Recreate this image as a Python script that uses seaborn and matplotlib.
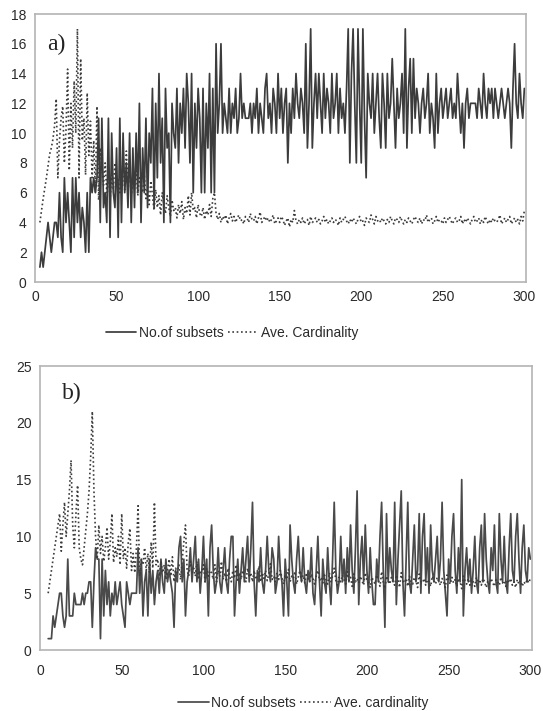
import numpy as np
import pandas as pd
import matplotlib
matplotlib.use("Agg")
import matplotlib.pyplot as plt
import seaborn as sns

# ---------------- data: panel a ----------------
a_start_x = 3
a_subsets = [
    1,2,1,2,3,4,3,2,3,4,
    4,3,6,3,2,7,4,6,4,2,
    7,3,7,4,6,3,5,4,2,6,
    2,7,6,7,6,7,11,4,11,5,
    6,4,11,3,10,6,5,9,3,11,
    4,10,6,8,5,10,4,9,5,10,
    6,12,4,9,6,11,5,10,8,13,
    5,12,7,14,8,11,4,13,9,10,
    4,12,10,9,13,8,12,10,13,9,
    14,12,8,14,6,12,9,13,11,6,
    13,6,12,9,14,6,13,6,16,10,
    12,16,10,12,11,10,13,10,12,11,
    13,10,11,14,11,12,11,11,11,12,
    10,12,11,13,10,12,11,10,13,14,
    11,12,10,13,12,10,14,11,13,10,
    12,13,8,12,10,13,11,14,12,11,
    13,12,10,16,9,12,17,9,12,14,
    11,14,12,10,14,11,13,12,10,14,
    11,12,14,10,13,11,12,10,13,17,
    8,14,17,12,8,17,12,8,17,11,
    7,14,12,11,14,10,12,14,11,9,
    14,12,9,14,11,12,15,12,9,13,
    11,12,14,10,17,9,13,15,10,15,
    11,13,12,10,12,13,11,12,14,10,
    12,11,9,14,10,12,13,11,12,13,
    11,12,13,11,12,11,14,12,10,12,
    9,12,13,11,12,12,12,12,11,13,
    12,11,14,12,11,13,12,13,11,13,
    12,11,12,13,12,11,12,13,12,9,
    13,16,12,11,14,12,11,13,
]
a_cardinality = [
    4.0,4.8,5.6,6.3,7.0,7.8,8.6,9.0,9.6,10.5,
    12.3,7.0,9.5,11.0,11.8,8.0,10.2,14.3,7.5,12.0,
    9.0,13.5,10.0,17.0,7.0,15.0,9.5,11.0,7.2,12.7,
    8.5,10.8,7.0,9.5,6.0,11.8,5.5,9.0,7.8,6.5,
    8.0,6.0,7.5,5.5,7.2,6.2,8.0,6.5,7.0,6.0,
    6.8,8.0,6.2,8.8,6.5,7.5,5.8,6.8,6.2,7.6,
    5.8,7.0,6.5,6.0,7.2,5.6,6.4,5.2,6.8,5.8,
    4.8,6.2,5.0,5.8,4.5,6.0,5.2,4.6,5.8,5.0,
    4.4,5.5,4.8,5.0,4.3,5.2,4.6,5.4,4.2,5.0,
    4.6,5.8,4.5,6.0,4.8,5.0,4.3,5.2,4.6,4.4,
    5.0,4.2,4.8,4.5,5.2,4.4,5.6,6.0,4.6,4.2,
    4.6,4.0,4.4,4.2,4.5,3.9,4.3,4.6,4.1,4.4,
    4.0,4.3,4.5,4.1,4.2,3.9,4.4,4.3,4.0,4.6,
    4.2,4.1,4.4,3.9,4.3,4.7,4.0,4.2,4.4,4.1,
    4.3,4.0,4.2,4.5,3.9,4.1,4.3,4.0,4.4,4.2,
    3.8,4.1,4.3,3.7,4.2,4.0,4.8,4.1,3.9,4.2,
    4.0,4.3,3.9,4.1,4.2,3.8,4.4,4.0,4.1,4.3,
    4.0,4.2,3.9,4.1,4.4,4.0,4.2,3.9,4.1,4.3,
    4.0,4.2,4.1,3.8,4.3,4.0,4.2,4.4,4.1,3.9,
    4.2,4.0,4.3,4.1,3.9,4.2,4.4,4.0,4.1,3.8,
    4.3,4.1,4.0,4.5,4.2,3.9,4.4,4.1,4.2,4.0,
    4.3,4.1,3.9,4.2,4.0,4.4,4.1,3.9,4.3,4.2,
    4.0,4.4,4.1,3.9,4.2,4.0,4.3,4.1,3.9,4.2,
    4.4,4.1,4.0,4.3,3.9,4.2,4.1,4.5,4.0,4.2,
    4.3,3.9,4.1,4.4,4.0,4.2,4.1,3.9,4.3,4.0,
    4.2,4.4,4.1,3.9,4.2,4.3,4.0,4.1,4.4,3.9,
    4.2,4.0,4.3,4.1,3.9,4.2,4.4,4.0,4.1,4.3,
    3.9,4.2,4.0,4.4,4.1,3.9,4.2,4.0,4.3,4.1,
    4.0,4.2,4.5,3.9,4.1,4.3,4.0,4.2,4.4,3.9,
    4.1,4.3,4.0,4.2,3.9,4.4,4.1,4.8,
]

# ---------------- data: panel b ----------------
b_start_x = 5
b_subsets = [
    1,1,1,3,2,3,4,5,5,3,
    2,3,8,3,3,3,5,4,4,4,
    4,5,4,5,5,6,6,2,6,9,
    8,8,1,8,3,7,4,6,3,5,
    4,6,4,5,6,4,3,2,6,5,
    4,5,5,5,5,9,5,8,3,6,
    7,3,8,5,7,4,6,7,5,8,
    6,5,8,6,7,6,5,2,7,6,
    9,10,6,8,3,6,7,9,6,8,
    10,6,8,5,7,10,6,8,3,9,
    11,7,5,6,9,6,5,7,9,6,
    5,8,10,10,3,6,8,5,7,9,
    6,8,10,6,9,13,6,3,7,6,
    9,6,5,7,10,7,6,9,8,5,
    6,10,7,6,3,8,6,3,11,8,
    6,5,8,10,7,6,9,6,5,7,
    6,9,5,4,7,10,6,3,8,6,
    5,9,6,4,8,13,7,5,6,10,
    6,8,5,9,6,11,7,5,9,14,
    4,8,10,6,11,7,5,9,6,4,
    4,8,6,10,13,7,2,12,6,9,
    7,6,13,4,8,11,14,6,3,8,
    13,6,5,8,11,6,7,12,5,10,
    12,6,9,5,11,7,6,8,10,6,
    8,13,7,5,3,8,6,10,12,7,
    5,9,6,15,3,7,9,6,8,5,
    7,10,6,5,9,11,6,12,8,6,
    5,9,7,11,6,5,12,8,6,10,
    6,5,9,12,7,6,10,12,8,5,
    9,11,7,6,9,8,
]
b_cardinality = [
    5.0,6.0,7.0,8.0,9.0,10.0,11.0,12.0,8.7,11.0,
    13.0,10.0,12.0,14.0,16.7,11.0,9.0,12.0,14.5,9.0,
    8.0,7.5,9.0,10.5,12.0,14.0,17.0,21.0,14.0,10.0,
    8.0,11.0,8.5,10.0,7.8,9.0,10.8,8.0,9.5,12.0,
    7.7,9.0,8.2,10.0,7.5,12.0,8.0,9.0,7.2,9.5,
    10.7,7.0,8.5,6.8,9.0,12.7,6.5,8.0,7.5,9.0,
    7.0,8.5,6.8,9.5,7.2,13.0,7.5,8.0,6.5,7.8,
    6.8,7.5,6.2,7.0,8.0,6.5,8.2,6.0,7.2,6.8,
    7.5,6.2,8.0,9.5,11.0,7.0,6.5,7.8,6.8,7.2,
    6.5,7.8,6.2,7.0,6.8,7.5,6.0,7.2,6.5,7.0,
    6.8,6.2,7.5,6.0,7.0,6.5,7.8,6.2,6.8,6.0,
    7.2,6.5,6.0,7.0,6.3,7.5,6.0,6.8,6.2,7.0,
    6.5,6.0,7.2,6.4,6.8,6.0,7.0,6.2,6.6,7.4,
    6.0,6.8,6.3,7.0,6.1,6.7,7.6,6.2,6.5,6.0,
    6.8,6.2,7.0,6.4,5.8,6.6,6.2,7.1,6.0,6.5,
    6.3,6.9,5.8,6.4,7.0,6.1,6.6,5.9,6.8,6.2,
    6.0,6.7,6.3,5.8,6.5,7.0,6.1,6.4,5.9,6.6,
    6.2,5.8,6.8,6.0,6.5,7.2,6.1,5.7,6.4,6.0,
    6.6,6.2,5.8,6.9,6.1,6.4,5.6,6.7,6.0,6.3,
    5.9,6.5,6.1,5.7,6.8,6.2,6.0,5.5,6.4,6.1,
    5.8,6.6,6.2,5.6,6.9,6.0,5.4,6.5,6.1,5.8,
    6.4,6.0,5.7,6.6,6.2,5.5,6.8,6.1,5.9,6.3,
    5.6,6.5,6.0,5.8,6.4,6.1,5.5,6.7,6.0,5.9,
    6.3,5.7,6.2,6.0,5.6,6.5,6.1,5.8,6.4,6.0,
    5.7,6.3,6.0,5.5,6.6,6.1,5.8,6.4,5.9,6.2,
    5.6,6.3,6.0,5.4,6.5,6.1,5.8,6.3,5.7,6.2,
    6.0,5.6,6.4,5.9,6.2,5.7,6.3,6.0,5.5,6.1,
    5.8,6.3,5.9,5.6,6.2,6.0,5.7,6.4,5.9,6.1,
    5.6,6.2,5.9,6.3,5.7,6.0,5.5,6.2,5.8,6.1,
    5.6,6.0,5.8,6.2,5.9,6.3,
]

a_labels = ["No.of subsets", "Ave. Cardinality"]
b_labels = ["No.of subsets", "Ave. cardinality"]
a_yticks = list(range(0, 19, 2))
b_yticks = list(range(0, 26, 5))
x_labels = list(range(0, 301, 50))
a_xtick_marks = list(range(0, 301, 20))

# ---------------- style ----------------
sns.set_style("white")
plt.rcParams["font.family"] = ["Liberation Sans", "DejaVu Sans"]

LINE = "#3c3c3c"
FRAME = "#b4b4b4"
TXT = "#2a2a2a"

fig = plt.figure(figsize=(5.43, 7.11), dpi=100)
ax_a = fig.add_axes([35/543, 1-282/711, (526-35)/543, (282-14)/711])
ax_b = fig.add_axes([40/543, 1-650/711, (532-40)/543, (650-366)/711])

def frame(ax):
    for s in ax.spines.values():
        s.set_visible(True)
        s.set_color(FRAME)
        s.set_linewidth(1.2)
    ax.tick_params(axis="both", which="both", direction="out", color=FRAME,
                   labelsize=10, labelcolor=TXT, width=1, length=4, pad=2)

# panel a
xa = np.arange(a_start_x, a_start_x + len(a_subsets))
df_a = pd.DataFrame({"x": xa, "subsets": a_subsets, "card": a_cardinality})
sns.lineplot(data=df_a, x="x", y="subsets", ax=ax_a, color=LINE, lw=1.25,
             label=a_labels[0])
sns.lineplot(data=df_a, x="x", y="card", ax=ax_a, color=LINE, lw=1.2,
             linestyle=(0, (1, 1.6)), label=a_labels[1])
ax_a.set_xlim(0, 301)
ax_a.set_ylim(0, 18)
ax_a.set_yticks(a_yticks)
ax_a.xaxis.remove_overlapping_locs = False
ax_a.set_xticks(x_labels)
ax_a.set_xticklabels([str(v) for v in x_labels])
ax_a.set_xticks(a_xtick_marks, minor=True)
frame(ax_a)
ax_a.tick_params(axis="x", which="major", length=0, pad=6)
ax_a.set_xlabel("")
ax_a.set_ylabel("")
ax_a.text(0.025, 0.885, "a)", transform=ax_a.transAxes, fontsize=17,
          family="Liberation Serif", color="#222", va="center")
ax_a.legend(loc="center", bbox_to_anchor=(232/543, 1-333/711),
            bbox_transform=fig.transFigure, ncol=2, frameon=False,
            fontsize=10, handlelength=2.2, columnspacing=0.3,
            handletextpad=0.2, labelcolor=TXT)

# panel b
xb = np.arange(b_start_x, b_start_x + len(b_subsets))
df_b = pd.DataFrame({"x": xb, "subsets": b_subsets, "card": b_cardinality})
sns.lineplot(data=df_b, x="x", y="subsets", ax=ax_b, color="#4a4a4a", lw=1.25,
             label=b_labels[0])
sns.lineplot(data=df_b, x="x", y="card", ax=ax_b, color=LINE, lw=1.2,
             linestyle=(0, (1, 1.6)), label=b_labels[1])
ax_b.set_xlim(0, 301)
ax_b.set_ylim(0, 25)
ax_b.set_yticks(b_yticks)
ax_b.set_xticks(x_labels)
frame(ax_b)
ax_b.tick_params(axis="x", pad=6)
ax_b.set_xlabel("")
ax_b.set_ylabel("")
ax_b.text(0.045, 0.905, "b)", transform=ax_b.transAxes, fontsize=17,
          family="Liberation Serif", color="#222", va="center")
ax_b.legend(loc="center", bbox_to_anchor=(303/543, 1-703/711),
            bbox_transform=fig.transFigure, ncol=2, frameon=False,
            fontsize=10, handlelength=2.2, columnspacing=0.3,
            handletextpad=0.2, labelcolor=TXT)

fig.savefig("out.png", dpi=100)
